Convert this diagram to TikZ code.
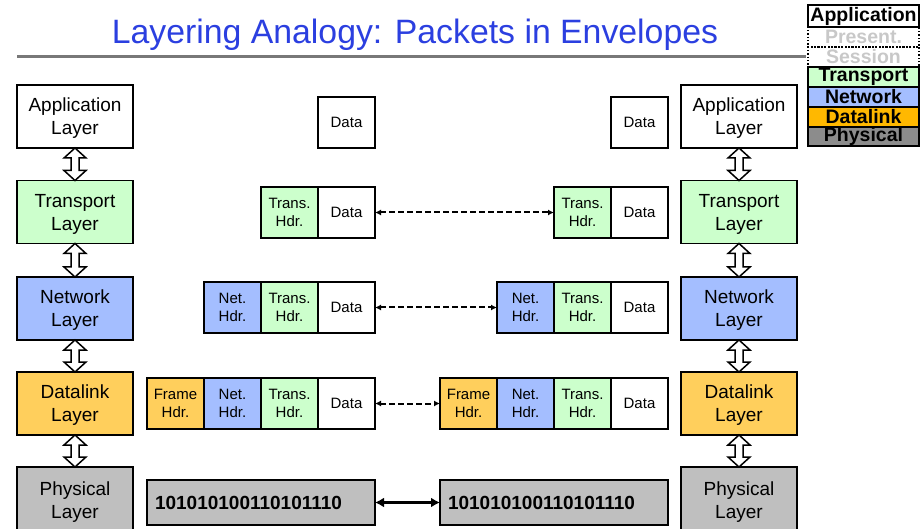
\documentclass[tikz,border=0pt]{standalone}
\usepackage{fontspec}
\setmainfont{Liberation Sans}
\usetikzlibrary{arrows.meta,calc}

\definecolor{titleblue}{RGB}{43,63,224}
\definecolor{transgreen}{RGB}{204,255,204}
\definecolor{netblue}{RGB}{164,190,255}
\definecolor{linkorange}{RGB}{255,207,92}
\definecolor{linkorangeD}{RGB}{255,184,0}
\definecolor{physgray}{RGB}{191,191,191}
\definecolor{physgrayD}{RGB}{140,140,140}
\definecolor{ghost}{RGB}{200,200,200}
\definecolor{rulegray}{RGB}{120,120,120}

% hollow up/down arrow between two stacked layer boxes
\newcommand\stackarrow[2]{%
  \draw[hollow] let \p1=(#1.south), \p2=(#2.north) in
    (\p1) -- (\x1+11pt,\y1-10pt) -- (\x1+4pt,\y1-10pt) -- (\x1+4pt,\y2+10pt)
    -- (\x1+11pt,\y2+10pt) -- (\p2) -- (\x1-11pt,\y2+10pt) -- (\x1-4pt,\y2+10pt)
    -- (\x1-4pt,\y1-10pt) -- (\x1-11pt,\y1-10pt) -- cycle;}

\begin{document}
\begin{tikzpicture}[x=1pt,y=-1pt,
  every node/.style={outer sep=0pt},
  layerbox/.style={draw,line width=1.6pt,minimum width=116pt,minimum height=63pt,
    align=center,font=\fontsize{19}{23}\selectfont,inner sep=0pt,text depth=-4pt},
  cell/.style={draw,line width=1.6pt,minimum width=57pt,minimum height=51pt,
    align=center,font=\fontsize{15}{18}\selectfont,inner sep=0pt,anchor=west,
    text depth=-2pt},
  bits/.style={draw,line width=1.6pt,minimum height=45pt,fill=physgray,
    font=\bfseries\fontsize{19}{20}\selectfont,text width=212pt,align=left,
    inner xsep=8pt,inner ysep=0pt,anchor=west},
  legend/.style={draw,line width=1.4pt,minimum width=111pt,minimum height=20pt,
    inner sep=0pt,font=\bfseries\fontsize{19.5}{20}\selectfont},
  hollow/.style={draw,line width=1.5pt,fill=white,line join=miter},
  peer/.style={line width=2pt,dash pattern=on 6pt off 3pt,
    {Latex[length=6pt,width=6pt]}-{Latex[length=6pt,width=6pt]}},
  wire/.style={line width=2.6pt,{Latex[length=9pt,width=10pt]}-{Latex[length=9pt,width=10pt]}}
]
\useasboundingbox (0,0) rectangle (921,529);
\clip (0,0) rectangle (921,529);

% title and rule
\node[text=titleblue,font=\fontsize{33.8}{38}\selectfont] (title) at (415,35) {Layering Analogy: Packets in Envelopes};
\coordinate (ruleL) at (17,57);
\coordinate (ruleR) at (806,57);
\draw[line width=3pt,rulegray] (ruleL) -- (ruleR);

% legend of the seven layers
\node[legend,dotted,text=ghost] (lgP) at (863.5,37) {Present.};
\node[legend,dotted,text=ghost] (lgS) at (863.5,57) {Session};
\node[legend,minimum height=22pt] (lgA) at (863.5,16) {Application};
\node[legend,fill=transgreen] (lgT) at (863.5,77) {Transport};
\node[legend,fill=netblue] (lgN) at (863.5,97) {Network};
\node[legend,fill=linkorangeD] (lgD) at (863.5,117) {Datalink};
\node[legend,fill=physgrayD,minimum height=19pt] (lgPh) at (863.5,136.5) {Physical};

% left stack
\node[layerbox] (aL) at (75,116.5) {Application\\Layer};
\node[layerbox,fill=transgreen] (tL) at (75,212) {Transport\\Layer};
\node[layerbox,fill=netblue] (nL) at (75,308.5) {Network\\Layer};
\node[layerbox,fill=linkorange] (dL) at (75,403.5) {Datalink\\Layer};
\node[layerbox,fill=physgray,minimum height=66pt] (pL) at (75,500) {Physical\\Layer};

% right stack
\node[layerbox] (aR) at (739,116.5) {Application\\Layer};
\node[layerbox,fill=transgreen] (tR) at (739,212) {Transport\\Layer};
\node[layerbox,fill=netblue] (nR) at (739,308.5) {Network\\Layer};
\node[layerbox,fill=linkorange] (dR) at (739,403.5) {Datalink\\Layer};
\node[layerbox,fill=physgray,minimum height=66pt] (pR) at (739,500) {Physical\\Layer};

\stackarrow{aL}{tL}
\stackarrow{tL}{nL}
\stackarrow{nL}{dL}
\stackarrow{dL}{pL}
\stackarrow{aR}{tR}
\stackarrow{tR}{nR}
\stackarrow{nR}{dR}
\stackarrow{dR}{pR}

% packets on the sending side
\node[cell] (d1L) at (318,122.5) {Data};

\node[cell,fill=transgreen] (t2L) at (261,212.5) {Trans.\\Hdr.};
\node[cell] (d2L) at (t2L.east) {Data};

\node[cell,fill=netblue] (n3L) at (204,307.5) {Net.\\Hdr.};
\node[cell,fill=transgreen] (t3L) at (n3L.east) {Trans.\\Hdr.};
\node[cell] (d3L) at (t3L.east) {Data};

\node[cell,fill=linkorange] (f4L) at (147,403.5) {Frame\\Hdr.};
\node[cell,fill=netblue] (n4L) at (f4L.east) {Net.\\Hdr.};
\node[cell,fill=transgreen] (t4L) at (n4L.east) {Trans.\\Hdr.};
\node[cell] (d4L) at (t4L.east) {Data};

\node[bits] (b5L) at (147,502.5) {101010100110101110};

% packets on the receiving side
\node[cell] (d1R) at (611,122.5) {Data};

\node[cell,fill=transgreen] (t2R) at (554,212.5) {Trans.\\Hdr.};
\node[cell] (d2R) at (t2R.east) {Data};

\node[cell,fill=netblue] (n3R) at (497,307.5) {Net.\\Hdr.};
\node[cell,fill=transgreen] (t3R) at (n3R.east) {Trans.\\Hdr.};
\node[cell] (d3R) at (t3R.east) {Data};

\node[cell,fill=linkorange] (f4R) at (440,403.5) {Frame\\Hdr.};
\node[cell,fill=netblue] (n4R) at (f4R.east) {Net.\\Hdr.};
\node[cell,fill=transgreen] (t4R) at (n4R.east) {Trans.\\Hdr.};
\node[cell] (d4R) at (t4R.east) {Data};

\node[bits] (b5R) at (440,502.5) {101010100110101110};

% peer-to-peer exchanges
\draw[peer] (d2L.east) -- (t2R.west);
\draw[peer] (d3L.east) -- (n3R.west);
\draw[peer] (d4L.east) -- (f4R.west);
\draw[wire] (b5L.east) -- (b5R.west);
\end{tikzpicture}
\end{document}
